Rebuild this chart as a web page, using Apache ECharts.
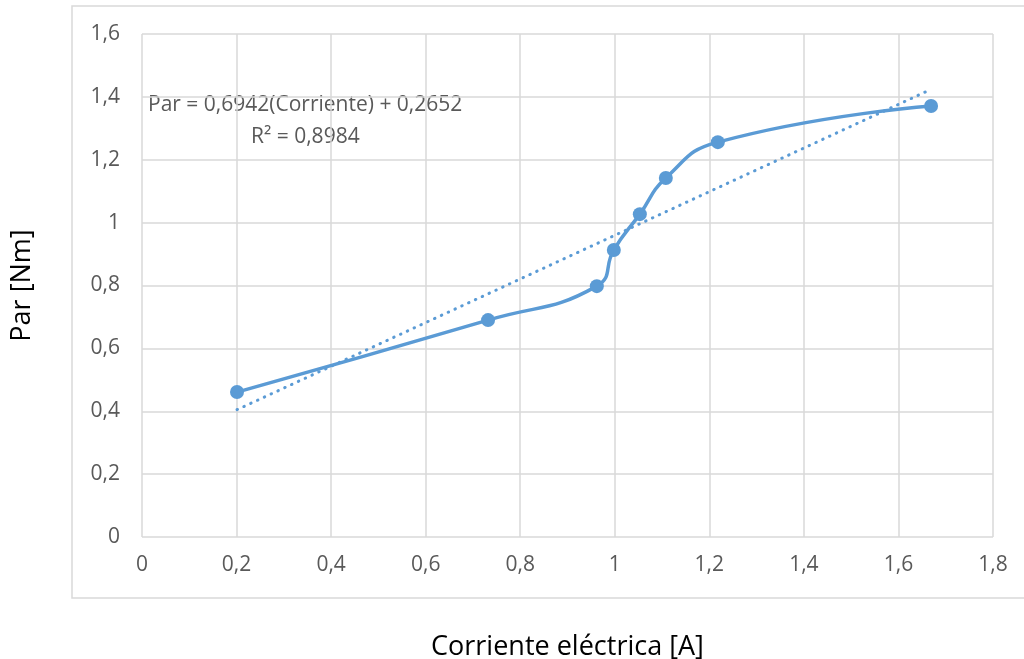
<!DOCTYPE html>
<html>
<head>
<meta charset="utf-8">
<script src="https://cdn.jsdelivr.net/npm/echarts@6/dist/echarts.min.js"></script>
<style>
html,body{margin:0;padding:0;background:#fff;}
#chart{width:1024px;height:659px;}
</style>
</head>
<body>
<div id="chart"></div>
<script>
var corriente = [0.201, 0.732, 0.962, 0.998, 1.053, 1.108, 1.218, 1.669];
var par = [0.461, 0.690, 0.798, 0.913, 1.027, 1.142, 1.256, 1.371];
var trendX = [0.201, 1.669];
var trendY = [0.405, 1.424];
var xTitle = 'Corriente eléctrica [A]';
var yTitle = 'Par [Nm]';
var eqLine1 = 'Par = 0,6942(Corriente) + 0,2652';
var eqLine2 = 'R² = 0,8984';

var FONT = '"Open Sans", Lato, sans-serif';
var BLUE = '#5B9BD5';
var GRID = '#D9D9D9';

function fmt(v){ return String(+v.toFixed(1)).replace('.', ','); }

var chart = echarts.init(document.getElementById('chart'));
chart.setOption({
  animation: false,
  backgroundColor: '#fff',
  grid: {left: 142, right: 31, top: 34, bottom: 122, containLabel: false, outerBoundsMode: 'none'},
  xAxis: {
    type: 'value', min: 0, max: 1.8, interval: 0.2,
    axisLine: {show: false}, axisTick: {show: false},
    splitLine: {lineStyle: {color: GRID, width: 1.5}},
    axisLabel: {formatter: fmt, color: '#595959', fontFamily: FONT, fontSize: 21, margin: 18},
    name: xTitle, nameLocation: 'middle', nameGap: 97,
    nameTextStyle: {color: '#000', fontFamily: FONT, fontSize: 27}
  },
  yAxis: {
    type: 'value', min: 0, max: 1.6, interval: 0.2,
    axisLine: {show: false}, axisTick: {show: false},
    splitLine: {lineStyle: {color: GRID, width: 1.5}},
    axisLabel: {formatter: fmt, color: '#595959', fontFamily: FONT, fontSize: 21, margin: 22},
    name: yTitle, nameLocation: 'middle', nameGap: 106,
    nameTextStyle: {color: '#000', fontFamily: FONT, fontSize: 27}
  },
  graphic: [
    {type: 'rect', shape: {x: 72, y: 6, width: 980, height: 592}, style: {fill: 'none', stroke: GRID, lineWidth: 1.5}, z: -1},
    {type: 'text', left: 148, top: 95, style: {text: eqLine1, fill: '#595959', font: '21px ' + FONT}},
    {type: 'text', left: 251, top: 127, style: {text: eqLine2, fill: '#595959', font: '21px ' + FONT}}
  ],
  series: [
    {
      type: 'line', data: trendX.map(function(x, i){ return [x, trendY[i]]; }),
      symbol: 'none', lineStyle: {color: BLUE, width: 3, type: [0.5, 7], cap: 'round'}, z: 2
    },
    {
      type: 'line', data: corriente.map(function(x, i){ return [x, par[i]]; }),
      smooth: 0.5, symbol: 'circle', symbolSize: 14,
      itemStyle: {color: BLUE}, lineStyle: {color: BLUE, width: 3.5}, z: 3
    }
  ]
});
</script>
</body>
</html>
